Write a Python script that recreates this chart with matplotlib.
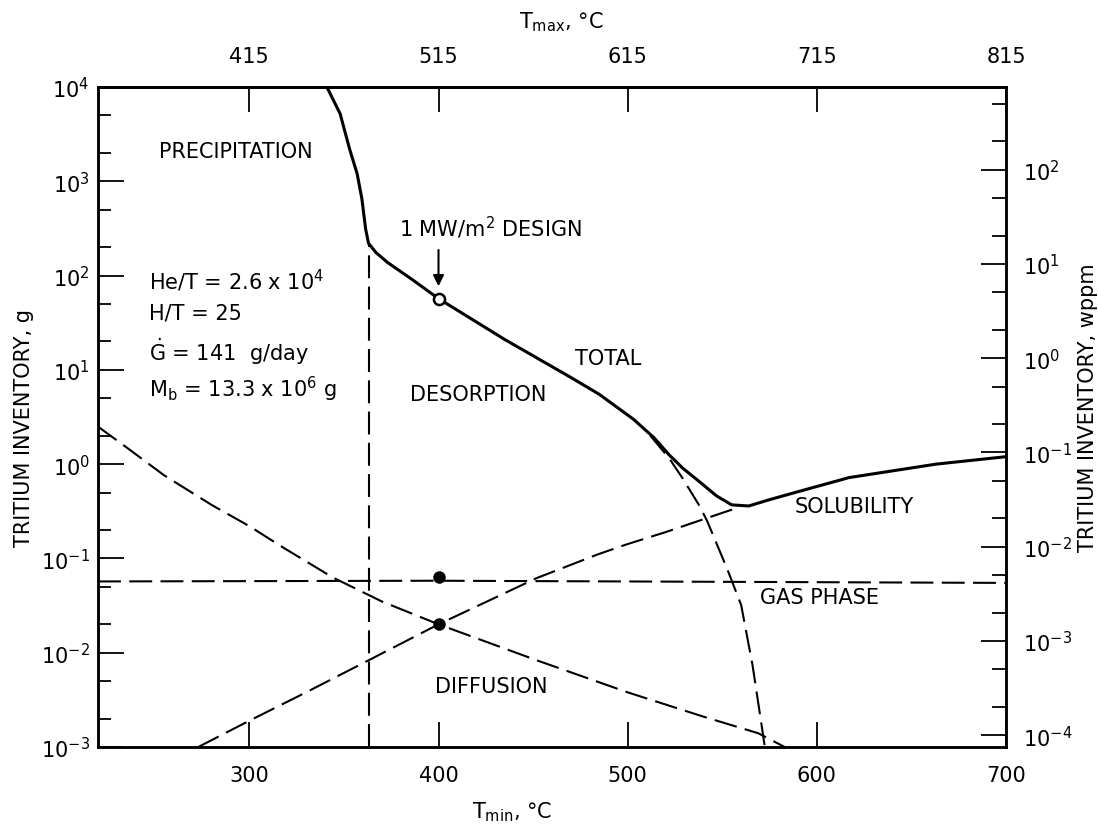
import matplotlib.pyplot as plt
from matplotlib.ticker import FixedLocator, NullFormatter

plt.rcParams['font.family'] = 'DejaVu Sans'
plt.rcParams['mathtext.default'] = 'regular'

# T_min (deg C) vs tritium inventory (g)
t_total = [341, 348, 353, 357, 359.5, 361.5, 363, 367, 373, 386, 400, 435, 470,
           485, 503, 514, 522, 529, 538, 547, 555, 564, 575, 590, 617, 663, 700]
g_total = [1e4, 5200, 2200, 1200, 650, 310, 220, 175, 138, 91, 57, 21, 8.3,
           5.5, 3.0, 1.9, 1.25, 0.91, 0.65, 0.46, 0.37, 0.36, 0.42, 0.51, 0.72, 1.0, 1.2]

t_desorp = [512, 522, 529, 538, 542, 553, 560, 566, 571, 572.5]
g_desorp = [2.0, 1.15, 0.71, 0.36, 0.25, 0.074, 0.032, 0.0074, 0.0016, 0.001]

t_solub = [273, 300, 330, 363, 400, 452, 484, 499, 520, 540, 559]
g_solub = [1e-3, 0.0019, 0.0038, 0.0083, 0.020, 0.062, 0.11, 0.14, 0.19, 0.26, 0.35]

t_diff = [220, 235, 255, 280, 300, 318, 344, 370, 400, 452, 500, 540, 569, 583]
g_diff = [2.5, 1.51, 0.76, 0.37, 0.22, 0.13, 0.063, 0.035, 0.020, 0.0083, 0.0038,
          0.0021, 0.0014, 0.001]

t_gas = [220, 400, 700]
g_gas = [0.057, 0.058, 0.055]

t_precip = 363          # precipitation boundary
g_precip_top = 220
t_design = 400
g_design = 57
g_dot_gas = 0.063
g_dot_cross = 0.020

MB = 13.3               # g per wppm (M_b = 13.3e6 g)
DT_MAX = 115            # T_max - T_min

fig = plt.figure(figsize=(10.98, 8.28), dpi=100)
ax = fig.add_axes([98 / 1098, 1 - 748 / 828, 908 / 1098, 660 / 828])
ax.set_yscale('log')
ax.set_xlim(220, 700)
ax.set_ylim(1e-3, 1e4)

dash = (0, (11, 4))
ax.plot(t_total, g_total, color='black', lw=2.2, solid_joinstyle='round')
ax.plot(t_desorp, g_desorp, color='black', lw=1.5, ls=dash)
ax.plot(t_solub, g_solub, color='black', lw=1.5, ls=dash)
ax.plot(t_diff, g_diff, color='black', lw=1.5, ls=dash)
ax.plot(t_gas, g_gas, color='black', lw=1.5, ls=dash)
ax.plot([t_precip, t_precip], [1e-3, g_precip_top], color='black', lw=1.5, ls=dash)

ax.plot([t_design], [g_design], 'o', ms=8, mfc='white', mec='black', mew=1.8)
ax.plot([t_design, t_design], [g_dot_gas, g_dot_cross], 'o', ms=8, color='black', ls='none')
ax.annotate('', xy=(t_design, 72), xytext=(t_design, 200),
            arrowprops=dict(arrowstyle='-|>', color='black', lw=1.5, mutation_scale=16))

fs = 15
ax.text(379, 325, '1 MW/m$^{2}$ DESIGN', fontsize=fs, va='center')
ax.text(252, 2100, 'PRECIPITATION', fontsize=fs, va='center')
ax.text(247, 90, 'He/T = 2.6 x 10$^{4}$', fontsize=fs, va='center')
ax.text(247, 41, 'H/T = 25', fontsize=fs, va='center')
ax.text(247, 16, r'$\dot{G}$ = 141  g/day', fontsize=fs, va='center')
ax.text(247, 6.3, 'M$_{b}$ = 13.3 x 10$^{6}$ g', fontsize=fs, va='center')
ax.text(385, 5.6, 'DESORPTION', fontsize=fs, va='center')
ax.text(472, 13.5, 'TOTAL', fontsize=fs, va='center')
ax.text(588, 0.36, 'SOLUBILITY', fontsize=fs, va='center')
ax.text(570, 0.039, 'GAS PHASE', fontsize=fs, va='center')
ax.text(398, 0.0044, 'DIFFUSION', fontsize=fs, va='center')

for s in ax.spines.values():
    s.set_linewidth(1.8)

# bottom axis
ax.set_xticks([300, 400, 500, 600, 700])
ax.set_xticklabels(['300', '400', '500', '600', '700'], fontsize=fs)
ax.tick_params(axis='x', direction='in', length=18, width=1.3, pad=13)

# left axis
ax.yaxis.set_major_locator(FixedLocator([10.0 ** k for k in range(-3, 5)]))
ax.set_yticklabels(['$10^{%d}$' % k for k in range(-3, 5)], fontsize=fs)
ax.yaxis.set_minor_locator(FixedLocator([m * 10.0 ** k for k in range(-3, 4) for m in (2, 5)]))
ax.yaxis.set_minor_formatter(NullFormatter())
ax.tick_params(axis='y', which='major', direction='in', length=19, width=1.3, pad=6)
ax.tick_params(axis='y', which='minor', direction='in', length=9, width=1.3)

# right axis in wppm
ax2 = ax.twinx()
ax2.set_yscale('log')
ax2.set_ylim(1e-3 / MB, 1e4 / MB)
ax2.yaxis.set_major_locator(FixedLocator([10.0 ** k for k in range(-4, 3)]))
ax2.set_yticklabels(['$10^{%d}$' % k for k in range(-4, 3)], fontsize=fs)
ax2.yaxis.set_minor_locator(FixedLocator([m * 10.0 ** k for k in range(-5, 3) for m in (2, 5)]))
ax2.yaxis.set_minor_formatter(NullFormatter())
ax2.tick_params(axis='y', which='major', direction='in', length=18, width=1.3, pad=12)
ax2.tick_params(axis='y', which='minor', direction='in', length=10, width=1.3)
for s in ax2.spines.values():
    s.set_linewidth(1.8)

# top axis: T_max
top = ax.secondary_xaxis('top', functions=(lambda x: x + DT_MAX, lambda x: x - DT_MAX))
top.set_xticks([415, 515, 615, 715, 815])
top.set_xticklabels(['415', '515', '615', '715', '815'], fontsize=fs)
top.tick_params(direction='in', length=18, width=1.3, pad=15)
top.spines['top'].set_linewidth(1.8)

fig.text(561 / 1098, 1 - 10 / 828, 'T$_{max}$, °C', fontsize=fs, ha='center', va='top')
fig.text(512 / 1098, 1 - 800 / 828, 'T$_{min}$, °C', fontsize=fs, ha='center', va='top')
fig.text(24 / 1098, 1 - 428 / 828, 'TRITIUM INVENTORY, g', fontsize=fs,
         rotation=90, ha='center', va='center')
fig.text(1088 / 1098, 1 - 408 / 828, 'TRITIUM INVENTORY, wppm', fontsize=fs,
         rotation=90, ha='center', va='center')

fig.savefig('out.png', dpi=100)
